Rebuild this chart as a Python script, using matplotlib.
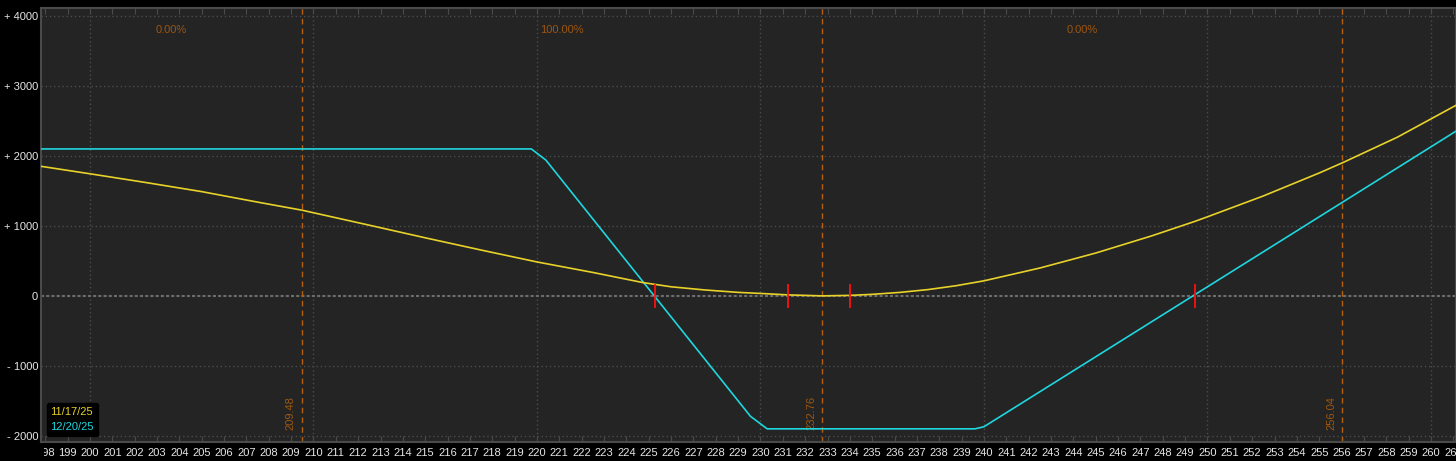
import matplotlib.pyplot as plt
from matplotlib.transforms import Bbox, TransformedBbox

plt.rcParams['font.family'] = ['Liberation Sans', 'DejaVu Sans']

# price grid and P/L values
t0_price = [197.8, 200, 202.5, 205, 207.5, 209.48, 212.5, 215, 217.5, 220,
            222.5, 224.74, 226, 227.5, 229, 230, 231.24, 232.76, 234, 235,
            236.25, 237.5, 238.75, 240, 242.5, 245, 247.5, 249.44, 250,
            252.5, 255, 256.04, 258.5, 261.1]
t0_pl = [1852, 1745, 1620, 1490, 1340, 1225, 1010, 830, 655, 485,
         335, 190, 130, 85, 50, 35, 14, 0, 7, 22,
         50, 90, 145, 215, 398, 612, 857, 1065, 1130,
         1428, 1756, 1902, 2268, 2720]

exp_price = [197.8, 219.75, 220.4, 229.55, 230.3, 239.6, 240.0, 261.1]
exp_pl = [2100, 2100, 1940, -1720, -1900, -1900, -1870, 2350]

breakevens = [225.27, 231.24, 234.02, 249.44]
sigma_lines = [209.48, 232.76, 256.04]
zone_x = [203.64, 221.12, 244.4]
zone_labels = ['0.00%', '100.00%', '0.00%']
legend_dates = ['11/17/25', '12/20/25']

yellow = '#e8d22a'
cyan = '#1fd6de'
orange = '#b4600c'

fig = plt.figure(figsize=(14.56, 4.61), dpi=100, facecolor='black')
ax = fig.add_axes([41 / 1456, 1 - 441.5 / 461, 1 - 41 / 1456, 433.5 / 461])
ax.set_facecolor('#242424')

ax.set_xlim(197.81, 261.12)
ax.set_ylim(-2081, 4114)

# grid
for yv in [-2000, -1000, 1000, 2000, 3000, 4000]:
    ax.axhline(yv, color='#4c4c4c', lw=1, ls=(0, (1, 2)), zorder=1)
for xv in range(200, 262, 10):
    ax.axvline(xv, color='#4c4c4c', lw=1, ls=(0, (1, 2)), zorder=1)
ax.axhline(0, color='#6c6c6c', lw=1.5, ls=(0, (1.5, 1)), zorder=1)

# probability zones
for xv in sigma_lines:
    ax.axvline(xv, color=orange, lw=1, ls=(0, (4, 3)), zorder=2)
    ax.text(xv - 0.5, -1914, f'{xv:.2f}', rotation=90, color=orange,
            fontsize=8, ha='center', va='bottom', alpha=0.85)
for xv, lab in zip(zone_x, zone_labels):
    ax.text(xv, 3800, lab, color='#9c550e', fontsize=8, ha='center', va='center')

l1, = ax.plot(t0_price, t0_pl, color=yellow, lw=1.2, zorder=4, label=legend_dates[0])
l2, = ax.plot(exp_price, exp_pl, color=cyan, lw=1.2, zorder=3, label=legend_dates[1])

for b in breakevens:
    ax.plot([b, b], [-160, 160], color='#ff1010', lw=1.3, zorder=5)

# axes styling
for s in ax.spines.values():
    s.set_color('#4a4a4a')
    s.set_linewidth(1.5)

ax.set_xticks(range(198, 262))
ax.set_xticklabels([str(v) for v in range(198, 262)])
ax.tick_params(axis='x', direction='in', length=4, color='#4a4a4a', top=True,
               labelcolor='#e6e6e6', labelsize=8, pad=5)
ax.set_yticks([4000, 3000, 2000, 1000, 0, -1000, -2000])
ax.set_yticklabels(['+ 4000', '+ 3000', '+ 2000', '+ 1000', '0', '- 1000', '- 2000'])
ax.tick_params(axis='y', length=0, labelcolor='#e6e6e6', labelsize=8, pad=2)

clip = TransformedBbox(Bbox([[0.002, -1], [1.2, 1]]), ax.transAxes)
for lab in ax.get_xticklabels():
    lab.set_clip_box(clip)
    lab.set_clip_on(True)

leg = ax.legend(handles=[l1, l2], loc='lower left', handlelength=0, handletextpad=0,
                labelcolor='linecolor', facecolor='black', edgecolor='black',
                framealpha=1, fontsize=8, borderpad=0.35, labelspacing=0.45,
                bbox_to_anchor=(0.0, 0.0))
for h in leg.legend_handles:
    h.set_visible(False)

fig.savefig('out.png', dpi=100, facecolor='black')
